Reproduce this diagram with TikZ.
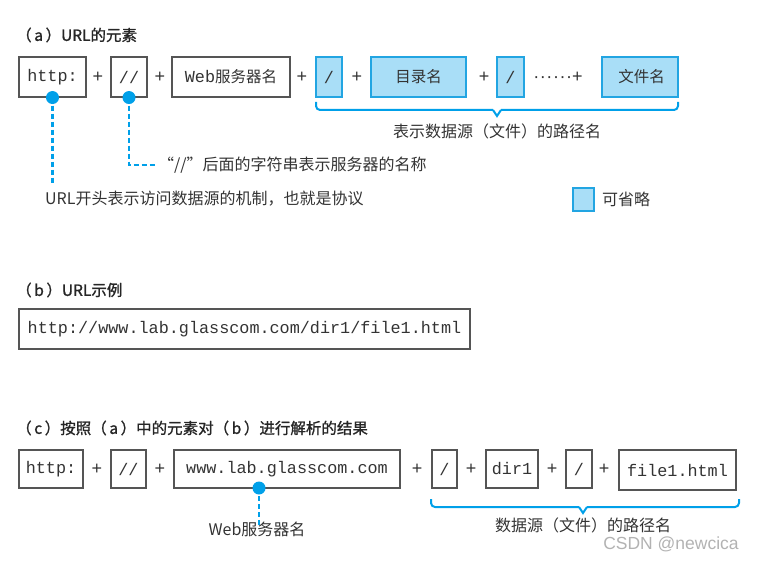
\documentclass[tikz,border=0pt]{standalone}
\usepackage{fontspec}
\setmainfont{Noto Sans CJK SC}
\setmonofont{Liberation Mono}
\newfontfamily\lsans{Liberation Sans}
\newfontfamily\ttlfont[FakeBold=1.2]{Noto Sans CJK SC}
\definecolor{txt}{HTML}{333333}
\definecolor{boxgray}{HTML}{555555}
\definecolor{optfill}{HTML}{A9DEF7}
\definecolor{optdraw}{HTML}{22A5E2}
\definecolor{dotblue}{HTML}{00A0E9}
\begin{document}
\begin{tikzpicture}[x=1pt,y=-1pt,
  box/.style={draw=boxgray, line width=1.1pt, minimum height=40pt, inner sep=0pt, text=txt, font=\ttfamily\fontsize{16.8}{17}\selectfont},
  optbox/.style={box, fill=optfill, draw=optdraw},
  cjkbox/.style={font=\fontsize{15.5}{16}\selectfont},
  plus/.style={font=\lsans\fontsize{18}{18}\selectfont, text=txt, inner sep=0pt},
  dot/.style={circle, fill=dotblue, minimum size=13pt, inner sep=0pt},
  lead/.style={draw=dotblue, line width=2.4pt, dash pattern=on 5pt off 3pt},
  brace/.style={draw=dotblue, line width=2pt},
  lbl/.style={font=\fontsize{16}{16}\selectfont, text=txt, inner sep=0pt},
  ttl/.style={font=\ttlfont\fontsize{15.5}{16}\selectfont, text=black!85, inner sep=0pt, anchor=west}
]
\useasboundingbox (0,0) rectangle (757,561);

% ---------- (a) ----------
\node[ttl] (ta) at (16,35) {（\,a\,）URL的元素};
\node[box, minimum width=67pt] (ha) at (52.5,77) {http:};
\node[plus] (pa1) at (98,77) {+};
\node[box, minimum width=36pt] (sa) at (129,77) {//};
\node[plus] (pa2) at (160,77) {+};
\node[box, minimum width=118pt] (wa) at (231,77) {Web{\rmfamily\fontsize{15.5}{16}\selectfont 服务器名}};
\node[plus] (pa3) at (302,77) {+};
\node[optbox, minimum width=26pt] (s1a) at (329,77) {/};
\node[plus] (pa4) at (357,77) {+};
\node[optbox, cjkbox, minimum width=95pt] (da) at (418.5,77) {\rmfamily 目录名};
\node[plus] (pa5) at (484,77) {+};
\node[optbox, minimum width=27pt] (s2a) at (510.5,77) {/};
\node[plus, font=\lsans\fontsize{18}{18}\selectfont] (pa6) at (558,77) {·\kern0.6pt·\kern0.6pt·\kern0.6pt·\kern0.6pt·\kern0.6pt·+};
\node[optbox, cjkbox, minimum width=76pt] (fa) at (640,77) {\rmfamily\ 文件名};

\draw[brace, rounded corners=4pt] (316,102) -- (316,110) -- (493,110);
\draw[brace] (493,110) -- (497,116) -- (501,110);
\draw[brace, rounded corners=4pt] (501,110) -- (678,110) -- (678,102);
\node[lbl] (pathA) at (497,131) {表示数据源（文件）的路径名};

\node[dot] (d1) at (ha.south) {};
\node[dot] (d2) at (sa.south) {};
\node[lbl, anchor=west] (l1) at (45,199) {URL开头表示访问数据源的机制，也就是协议};
\node[lbl, anchor=west] (l2) at (158,165) {“//”后面的字符串表示服务器的名称};
\draw[lead] (d1.center) -- (d1.center |- 0,184);
\draw[lead] (d2.center) |- ([xshift=-3pt]l2.west);

\node[optbox, minimum width=21pt, minimum height=23pt] (leg) at (583.5,199.5) {};
\node[lbl, anchor=west] (legt) at (602,199.5) {可省略};

% ---------- (b) ----------
\node[ttl] (tb) at (16,290) {（\,b\,）URL示例};
\node[box, minimum width=451pt] (ex) at (244.5,329) {http://www.lab.glasscom.com/dir1/file1.html};

% ---------- (c) ----------
\node[ttl] (tc) at (16,428) {（\,c\,）按照（\,a\,）中的元素对（\,b\,）进行解析的结果};
\node[box, minimum width=64pt, minimum height=38pt] (hc) at (51,469) {http:};
\node[plus] (pc1) at (97,469) {+};
\node[box, minimum width=35pt, minimum height=38pt] (sc) at (128.5,469) {//};
\node[plus] (pc2) at (160,469) {+};
\node[box, minimum width=226pt, minimum height=38pt] (wc) at (287,469) {www.lab.glasscom.com};
\node[plus] (pc3) at (417,469) {+};
\node[box, minimum width=25pt, minimum height=38pt] (s1c) at (444.5,469) {/};
\node[plus] (pc4) at (471,469) {+};
\node[box, minimum width=52pt, minimum height=38pt] (dc) at (512,469) {dir1};
\node[plus] (pc5) at (552,469) {+};
\node[box, minimum width=26pt, minimum height=38pt] (s2c) at (579,469) {/};
\node[plus] (pc6) at (604,469) {+};
\node[box, minimum width=117pt, minimum height=40pt] (fc) at (677.5,470) {file1.html};

\draw[brace, rounded corners=4pt] (431,499) -- (431,507) -- (579,507);
\draw[brace] (579,507) -- (583,513) -- (587,507);
\draw[brace, rounded corners=4pt] (587,507) -- (739,507) -- (739,499);
\node[lbl] (pathC) at (583,525) {数据源（文件）的路径名};

\node[dot] (d3) at (259,488) {};
\node[lbl] (l3) at (257,529) {Web服务器名};
\draw[lead] (d3.center) -- ([yshift=-4pt]d3.center |- l3.north);

\node[font=\lsans\fontsize{17.5}{18}\selectfont, text=black!30, inner sep=0pt] (wm) at (671,544) {CSDN @newcica};
\end{tikzpicture}
\end{document}
